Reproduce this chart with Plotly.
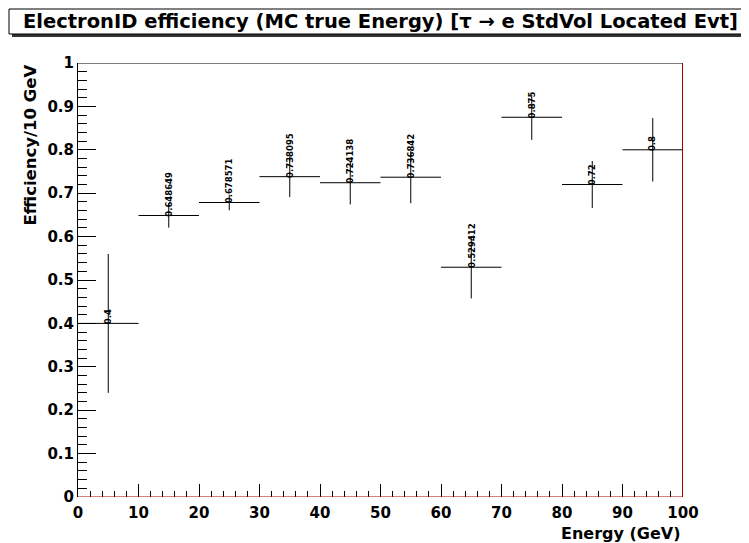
import plotly.graph_objects as go

# bin centres (GeV), efficiencies and their errors
energy = [5, 15, 25, 35, 45, 55, 65, 75, 85, 95]
eff = [0.4, 0.648649, 0.678571, 0.738095, 0.724138, 0.736842, 0.529412, 0.875, 0.72, 0.8]
eff_err = [0.16, 0.028, 0.018, 0.047, 0.05, 0.06, 0.072, 0.052, 0.054, 0.073]
bin_half = 5

FONT = "DejaVu Sans, sans-serif"
# the page body adds an 8 px margin, so the figure is 8 px smaller than the window
OFF = 8
W, H = 749 - OFF, 543 - OFF
L, R, T, B = 70, 66, 55, 46

def px(xp):
    # page pixel -> paper x
    return (xp - OFF - L) / (W - L - R)

def py(yp):
    # page pixel -> paper y
    return (H - B - (yp - OFF)) / (H - T - B)

fig = go.Figure()
fig.add_trace(go.Scatter(
    x=energy, y=eff, mode="markers",
    marker=dict(size=1, color="black"),
    error_x=dict(type="constant", value=bin_half, width=0, thickness=1, color="black"),
    error_y=dict(type="data", array=eff_err, width=0, thickness=1, color="black"),
    showlegend=False, hoverinfo="skip",
))

# value labels written vertically above each bin
for xe, ye in zip(energy, eff):
    fig.add_annotation(x=xe, y=ye, text=f"{ye:g}", textangle=-90, showarrow=False,
                       xanchor="center", yanchor="bottom", yshift=-3,
                       font=dict(family=FONT, size=8.5, color="black", weight="bold"))

# frame: top and left black, bottom and right red
fig.add_shape(type="line", xref="x", yref="y", x0=0, x1=100, y0=1, y1=1,
              line=dict(color="black", width=1))
fig.add_shape(type="line", xref="x", yref="y", x0=100, x1=100, y0=0, y1=1,
              line=dict(color="#a00000", width=2))
fig.add_shape(type="line", xref="x", yref="y", x0=0, x1=100, y0=0, y1=0,
              line=dict(color="#b00000", width=1))

# ROOT style title box with shadow
fig.add_shape(type="rect", xref="paper", yref="paper",
              x0=px(12), x1=px(748), y0=py(37), y1=py(12),
              line=dict(width=0), fillcolor="#333333", layer="below")
fig.add_shape(type="rect", xref="paper", yref="paper",
              x0=px(9), x1=px(745), y0=py(34), y1=py(9),
              line=dict(color="black", width=1), fillcolor="white", layer="below")
fig.add_annotation(xref="paper", yref="paper", x=px(380), y=py(21),
                   text="ElectronID efficiency (MC true Energy) [τ → e StdVol Located Evt]",
                   showarrow=False, xanchor="center", yanchor="middle",
                   font=dict(family=FONT, size=19.5, color="black", weight="bold"))

# axis titles placed the ROOT way
fig.add_annotation(xref="paper", yref="paper", x=1, y=py(533), text="Energy (GeV)",
                   showarrow=False, xanchor="right", yanchor="middle",
                   font=dict(family=FONT, size=16, color="black", weight="bold"))
fig.add_annotation(xref="paper", yref="paper", x=px(30), y=1, text="Efficiency/10 GeV",
                   textangle=-90, showarrow=False, xanchor="center", yanchor="top",
                   font=dict(family=FONT, size=16.5, color="black", weight="bold"))

tickfont = dict(family=FONT, size=15, color="black", weight="bold")
fig.update_xaxes(range=[0, 100], showgrid=False, zeroline=False, showline=False,
                 automargin=False, ticklabelstandoff=5,
                 tickmode="linear", tick0=0, dtick=10, ticks="inside", ticklen=13,
                 tickcolor="black", tickfont=tickfont,
                 minor=dict(ticks="inside", dtick=2, ticklen=6, tickcolor="black", showgrid=False))
fig.update_yaxes(range=[0, 1], showgrid=False, zeroline=False, showline=True,
                 linecolor="black", linewidth=1, automargin=False,
                 tickmode="linear", tick0=0, dtick=0.1, ticks="inside", ticklen=18,
                 tickcolor="black", tickfont=tickfont,
                 minor=dict(ticks="inside", dtick=0.02, ticklen=9, tickcolor="black", showgrid=False))

fig.update_layout(width=W, height=H, margin=dict(l=L, r=R, t=T, b=B),
                  paper_bgcolor="white", plot_bgcolor="white")

fig.write_html("out.html")
